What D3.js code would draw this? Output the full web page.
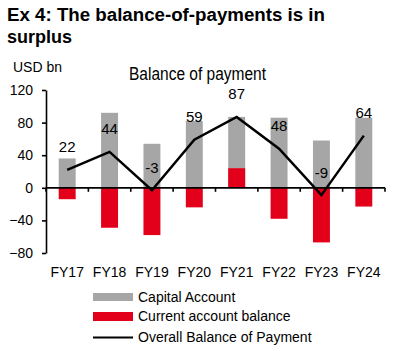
<!DOCTYPE html>
<html>
<head>
<meta charset="utf-8">
<script src="https://cdn.jsdelivr.net/npm/d3@7"></script>
<style>
  body { margin: 0; background: #fff; }
  svg text { font-family: "Liberation Sans", Arial, sans-serif; fill: #000; }
</style>
</head>
<body>
<svg id="chart" width="401" height="351"></svg>
<script>
const years = ["FY17", "FY18", "FY19", "FY20", "FY21", "FY22", "FY23", "FY24"];
const capitalAccount = [36, 92, 54, 82, 87, 86, 58, 86];
const currentAccount = [-14, -49, -58, -24, 24, -38, -67, -23];
const overallBop = [22, 44, -3, 59, 87, 48, -9, 64];
const yTicks = [-80, -40, 0, 40, 80, 120];
const legendItems = ["Capital Account", "Current account balance", "Overall Balance of Payment"];

const svg = d3.select("#chart");
const grey = "#a6a6a6";
const red = "#e2001a";

const x = d3.scaleBand().domain(years).range([46, 385]).paddingInner(0.6).paddingOuter(0.3);
const y = d3.scaleLinear().domain([-80, 120]).range([253, 90]);

// title
svg.append("text").attr("x", 7).attr("y", 21)
    .style("font-size", "18px").style("font-weight", "bold")
    .attr("textLength", 318).attr("lengthAdjust", "spacingAndGlyphs")
    .text("Ex 4: The balance-of-payments is in");
svg.append("text").attr("x", 7).attr("y", 43)
    .style("font-size", "18px").style("font-weight", "bold")
    .text("surplus");

svg.append("text").attr("x", 13).attr("y", 72)
    .style("font-size", "14px").text("USD bn");
svg.append("text").attr("x", 129).attr("y", 80)
    .style("font-size", "17.5px")
    .attr("textLength", 137).attr("lengthAdjust", "spacingAndGlyphs")
    .text("Balance of payment");

// bars
svg.append("g").selectAll("rect").data(years).join("rect")
    .attr("x", d => x(d))
    .attr("width", x.bandwidth())
    .attr("y", (d, i) => y(Math.max(0, capitalAccount[i])))
    .attr("height", (d, i) => Math.abs(y(capitalAccount[i]) - y(0)))
    .attr("fill", grey);

svg.append("g").selectAll("rect").data(years).join("rect")
    .attr("x", d => x(d))
    .attr("width", x.bandwidth())
    .attr("y", (d, i) => y(Math.max(0, currentAccount[i])))
    .attr("height", (d, i) => Math.abs(y(currentAccount[i]) - y(0)))
    .attr("fill", red);

// y axis
const yAxis = svg.append("g")
    .attr("transform", "translate(46,0)")
    .call(d3.axisLeft(y).tickValues(yTicks).tickSize(4).tickSizeOuter(0).tickPadding(9));
yAxis.selectAll("text").style("font-size", "14px").style("font-family", "Liberation Sans, Arial, sans-serif");
yAxis.selectAll("line, path").attr("stroke", "#000").attr("stroke-width", 1.6);

// x axis at zero
const step = x.step();
const x0 = x.range()[0];
svg.append("line")
    .attr("x1", x0).attr("x2", x.range()[1])
    .attr("y1", y(0)).attr("y2", y(0))
    .attr("stroke", "#000").attr("stroke-width", 1.8);
svg.append("g").selectAll("line").data(d3.range(years.length + 1)).join("line")
    .attr("x1", i => x0 + i * step).attr("x2", i => x0 + i * step)
    .attr("y1", y(0)).attr("y2", y(0) + 4)
    .attr("stroke", "#000").attr("stroke-width", 1.6);

svg.append("g").selectAll("text").data(years).join("text")
    .attr("x", d => x(d) + x.bandwidth() / 2)
    .attr("y", 277)
    .attr("text-anchor", "middle")
    .style("font-size", "14px")
    .text(d => d);

// overall line
const line = d3.line()
    .x((d, i) => x(years[i]) + x.bandwidth() / 2)
    .y(d => y(d));
svg.append("path").datum(overallBop)
    .attr("d", line)
    .attr("fill", "none")
    .attr("stroke", "#000")
    .attr("stroke-width", 2.5);

svg.append("g").selectAll("text").data(overallBop).join("text")
    .attr("x", (d, i) => x(years[i]) + x.bandwidth() / 2)
    .attr("y", d => y(d) - 17.5)
    .attr("text-anchor", "middle")
    .style("font-size", "15px")
    .text(d => d);

// legend
const lg = svg.append("g");
const rowY = [297, 316.5, 337.5];
lg.append("rect").attr("x", 93).attr("y", rowY[0] - 4).attr("width", 40).attr("height", 8).attr("fill", grey);
lg.append("rect").attr("x", 93).attr("y", rowY[1] - 4.5).attr("width", 40).attr("height", 9).attr("fill", red);
lg.append("line").attr("x1", 93).attr("x2", 133).attr("y1", rowY[2]).attr("y2", rowY[2])
    .attr("stroke", "#000").attr("stroke-width", 2);
lg.selectAll("text").data(legendItems).join("text")
    .attr("x", 138)
    .attr("y", (d, i) => rowY[i] + 4.5)
    .style("font-size", "14px")
    .text(d => d);
</script>
</body>
</html>
